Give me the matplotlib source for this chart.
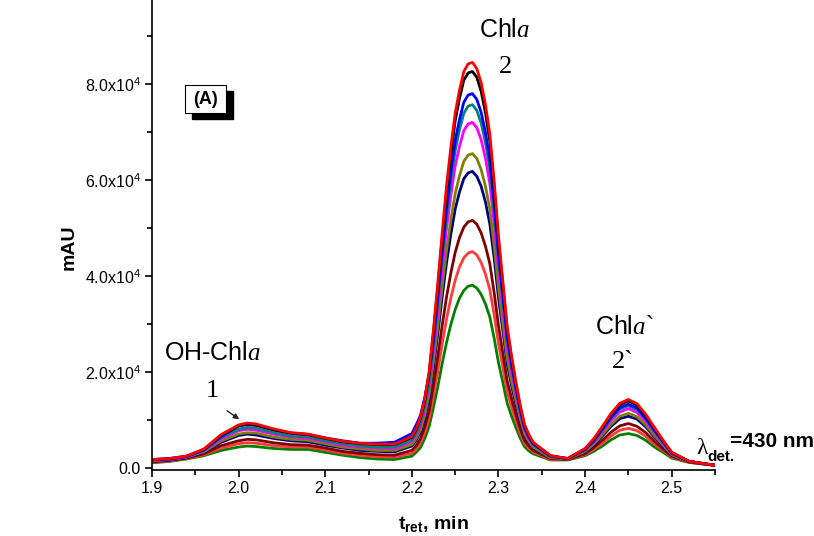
import numpy as np
import matplotlib
matplotlib.use("Agg")
import matplotlib.pyplot as plt
from matplotlib.patches import Rectangle
from matplotlib.ticker import MultipleLocator, FuncFormatter

plt.rcParams['font.family'] = ['Liberation Sans', 'DejaVu Sans']
plt.rcParams['mathtext.fontset'] = 'custom'
plt.rcParams['mathtext.rm'] = 'Liberation Sans'
plt.rcParams['mathtext.it'] = 'Liberation Serif:italic'
plt.rcParams['mathtext.bf'] = 'Liberation Sans:bold'

# retention time, min
t_ret = [1.90, 1.92, 1.94, 1.96, 1.98, 2.00, 2.01, 2.02, 2.04, 2.06, 2.08,
         2.10, 2.12, 2.14, 2.16, 2.18, 2.20,
         2.205, 2.21, 2.215, 2.22, 2.225, 2.23, 2.235, 2.24, 2.245, 2.25,
         2.255, 2.26, 2.265, 2.27, 2.275, 2.28, 2.285, 2.29, 2.295, 2.30,
         2.305, 2.31, 2.315, 2.32, 2.325, 2.33, 2.335, 2.34, 2.36, 2.38,
         2.40, 2.41, 2.42, 2.43, 2.44, 2.45, 2.46, 2.47, 2.48, 2.49, 2.50,
         2.52, 2.55]

# signal, x1000 mAU
green = [1.1, 1.4, 1.9, 2.6, 3.7, 4.4, 4.6, 4.5, 4.1, 3.9, 3.9,
         3.3, 2.7, 2.2, 1.9, 1.8, 2.5,
         3.3, 4.3, 6.2, 8.7, 12.7, 17.0, 21.8, 26.1, 29.9, 33.0,
         35.4, 37.0, 37.9, 38.1, 37.5, 36.2, 34.2, 31.5, 27.1, 22.0,
         17.9, 13.6, 10.9, 8.5, 6.3, 4.5, 3.6, 3.0, 1.7, 1.7,
         2.6, 3.5, 4.6, 5.9, 6.9, 7.2, 6.8, 5.8, 4.4, 3.3, 2.1, 1.2, 0.6]
ltred = [1.2, 1.5, 2.0, 2.8, 4.2, 5.1, 5.3, 5.2, 4.7, 4.4, 4.4,
         3.8, 3.1, 2.7, 2.4, 2.3, 3.1,
         4.0, 5.3, 7.4, 10.4, 15.1, 20.2, 25.9, 31.0, 35.4, 39.1,
         41.9, 43.8, 44.8, 45.1, 44.4, 42.8, 40.4, 37.2, 32.0, 26.0,
         21.1, 16.0, 12.8, 9.9, 7.3, 5.2, 4.1, 3.4, 1.8, 1.8,
         2.8, 3.9, 5.2, 6.7, 7.9, 8.3, 7.8, 6.6, 5.0, 3.7, 2.3, 1.2, 0.6]
maroon = [1.3, 1.6, 2.1, 3.0, 4.7, 5.7, 6.0, 5.9, 5.3, 4.9, 4.8,
          4.2, 3.5, 3.1, 2.8, 2.7, 3.7,
          4.7, 6.1, 8.6, 12.0, 17.4, 23.3, 29.7, 35.6, 40.6, 44.9,
          48.0, 50.2, 51.3, 51.6, 50.8, 49.0, 46.2, 42.6, 36.6, 29.7,
          24.0, 18.2, 14.6, 11.3, 8.3, 5.8, 4.6, 3.7, 2.0, 1.8,
          3.0, 4.3, 5.8, 7.5, 8.8, 9.3, 8.7, 7.4, 5.6, 4.0, 2.5, 1.3, 0.6]
navy = [1.5, 1.7, 2.2, 3.3, 5.4, 6.8, 7.1, 6.9, 6.2, 5.7, 5.5,
        4.8, 4.2, 3.7, 3.5, 3.4, 4.6,
        5.8, 7.5, 10.4, 14.6, 21.0, 28.0, 35.6, 42.7, 48.7, 53.9,
        57.5, 60.3, 61.5, 61.8, 60.8, 58.7, 55.4, 50.9, 43.8, 35.5,
        28.7, 21.8, 17.3, 13.4, 9.8, 6.9, 5.3, 4.2, 2.2, 1.9,
        3.4, 4.8, 6.7, 8.7, 10.3, 10.8, 10.2, 8.6, 6.5, 4.6, 2.7, 1.3, 0.6]
olive = [1.5, 1.8, 2.3, 3.4, 5.7, 7.1, 7.4, 7.3, 6.5, 6.0, 5.8,
         5.1, 4.4, 4.0, 3.7, 3.7, 4.9,
         6.2, 8.0, 11.1, 15.5, 22.3, 29.7, 37.8, 45.3, 51.7, 57.1,
         60.9, 63.9, 65.2, 65.5, 64.5, 62.2, 58.7, 54.0, 46.4, 37.6,
         30.3, 23.0, 18.3, 14.2, 10.4, 7.2, 5.6, 4.4, 2.2, 1.9,
         3.5, 5.0, 7.0, 9.1, 10.8, 11.4, 10.7, 9.0, 6.8, 4.8, 2.8, 1.3, 0.6]
magenta = [1.6, 1.8, 2.3, 3.6, 6.1, 7.8, 8.1, 7.9, 7.1, 6.5, 6.2,
           5.5, 4.8, 4.4, 4.2, 4.1, 5.5,
           6.9, 8.9, 12.3, 17.1, 24.5, 32.8, 41.6, 49.9, 56.8, 62.9,
           67.0, 70.3, 71.7, 72.0, 70.9, 68.4, 64.5, 59.3, 51.0, 41.3,
           33.3, 25.3, 20.1, 15.5, 11.3, 7.9, 6.1, 4.8, 2.4, 1.9,
           3.7, 5.4, 7.6, 9.9, 11.7, 12.4, 11.6, 9.7, 7.4, 5.1, 3.0, 1.4, 0.6]
teal = [1.7, 1.9, 2.4, 3.7, 6.4, 8.1, 8.5, 8.3, 7.4, 6.7, 6.5,
        5.7, 5.1, 4.6, 4.4, 4.4, 5.8,
        7.3, 9.4, 12.9, 18.0, 25.8, 34.5, 43.8, 52.5, 59.8, 66.1,
        70.5, 73.9, 75.4, 75.7, 74.5, 71.9, 67.8, 62.4, 53.6, 43.4,
        35.0, 26.6, 21.1, 16.3, 11.9, 8.2, 6.4, 4.9, 2.4, 1.9,
        3.8, 5.6, 7.9, 10.4, 12.3, 13.0, 12.2, 10.2, 7.7, 5.3, 3.1, 1.4, 0.6]
blue = [1.7, 1.9, 2.4, 3.8, 6.6, 8.8, 9.1, 8.9, 8.0, 7.3, 7.0,
        6.3, 5.7, 5.2, 5.2, 5.4, 7.2,
        9.0, 11.0, 14.8, 19.5, 26.6, 35.6, 45.1, 54.1, 61.6, 68.2,
        72.6, 76.2, 77.7, 78.0, 76.8, 74.1, 69.9, 64.3, 55.2, 44.7,
        36.0, 27.4, 21.7, 16.8, 12.2, 8.5, 6.5, 5.1, 2.5, 2.0,
        3.9, 5.7, 8.1, 10.6, 12.6, 13.3, 12.5, 10.4, 7.9, 5.5, 3.1, 1.4, 0.6]
black = [1.8, 2.0, 2.5, 3.9, 6.9, 8.8, 9.2, 9.0, 8.0, 7.3, 7.0,
         6.2, 5.5, 5.1, 4.9, 4.9, 6.4,
         8.0, 10.4, 14.2, 19.7, 28.3, 37.7, 47.8, 57.4, 65.3, 72.3,
         77.0, 80.8, 82.3, 82.6, 81.4, 78.5, 74.0, 68.1, 58.5, 47.3,
         38.2, 29.0, 23.0, 17.7, 12.9, 8.9, 6.9, 5.3, 2.6, 2.0,
         4.0, 6.0, 8.5, 11.2, 13.2, 14.0, 13.1, 11.0, 8.3, 5.7, 3.3, 1.4, 0.6]
red = [1.8, 2.0, 2.5, 4.0, 7.0, 9.0, 9.4, 9.2, 8.2, 7.4, 7.1,
       6.3, 5.6, 5.2, 5.0, 5.0, 6.6,
       8.2, 10.6, 14.5, 20.2, 28.9, 38.6, 48.9, 58.7, 66.8, 73.9,
       78.7, 82.6, 84.2, 84.5, 83.2, 80.3, 75.7, 69.6, 59.8, 48.4,
       39.0, 29.6, 23.5, 18.1, 13.2, 9.1, 7.0, 5.4, 2.6, 2.0,
       4.1, 6.1, 8.7, 11.4, 13.5, 14.3, 13.4, 11.2, 8.5, 5.8, 3.3, 1.4, 0.6]

series = [green, ltred, maroon, navy, olive, magenta, teal, blue, black, red]
colors = ['#008000', '#ff3b3b', '#800000', '#000080', '#808000',
          '#ff00ff', '#008080', '#0000ff', '#000000', '#ff0000']

fig = plt.figure(figsize=(8.14, 5.36), dpi=100)
ax = fig.add_axes([0.1867, 0.123, 0.6917, 0.877])

t = np.array(t_ret)
for vals, c in zip(series, colors):
    ax.plot(t, np.array(vals) * 1000, color=c, lw=2,
            solid_joinstyle='round', solid_capstyle='round')

ax.set_xlim(1.9, 2.55)
ax.set_ylim(-400, 97500)
ax.spines['top'].set_visible(False)
ax.spines['right'].set_visible(False)
for s in ['left', 'bottom']:
    ax.spines[s].set_linewidth(1.2)

ax.xaxis.set_major_locator(MultipleLocator(0.1))
ax.xaxis.set_minor_locator(MultipleLocator(0.05))
ax.yaxis.set_major_locator(MultipleLocator(20000))
ax.yaxis.set_minor_locator(MultipleLocator(10000))
ax.xaxis.set_major_formatter(FuncFormatter(lambda v, p: '%.1f' % v))
ax.yaxis.set_major_formatter(FuncFormatter(
    lambda v, p: '0.0' if abs(v) < 1 else r'$\mathregular{%.1fx10^{4}}$' % (v / 1e4)))
ax.tick_params(which='major', direction='out', length=5, width=1.2,
               labelsize=11.5, pad=3)
ax.tick_params(which='minor', direction='out', length=3.5, width=1.2)

ax.set_xlabel(r'$\mathbf{t_{ret}}$, min', fontsize=14, fontweight='bold', labelpad=13)
fig.text(69 / 814, 1 - 247 / 536, 'mAU', rotation=90, fontsize=14,
         fontweight='bold', ha='center', va='center')

# peak labels
ax.text(2.307, 89800, r'Chl$\mathit{a}$', fontsize=18, ha='center', va='baseline')
ax.text(2.308, 82300, '2', fontsize=19, family='Liberation Serif',
        ha='center', va='baseline')
ax.text(1.970, 22500, r'OH-Chl$\mathit{a}$', fontsize=18, ha='center', va='baseline')
ax.text(1.970, 14800, '1', fontsize=19, family='Liberation Serif',
        ha='center', va='baseline')
ax.text(2.412, 27900, r'Chl$\mathit{a}$`', fontsize=18, ha='left', va='baseline')
ax.text(2.4315, 20800, '2`', fontsize=19, family='Liberation Serif',
        ha='left', va='baseline')
ax.annotate('', xy=(2.0034, 9850), xytext=(1.984, 12300),
            arrowprops=dict(arrowstyle='-|>', color='#222222', lw=1,
                            mutation_scale=8))

# detection wavelength
fig.text(696 / 814, 1 - 454 / 536, 'λ', fontsize=17, family='Liberation Serif',
         va='baseline')
fig.text(707 / 814, 1 - 461 / 536, 'det.', fontsize=11, fontweight='bold',
         va='baseline')
fig.text(730 / 814, 1 - 447 / 536, '=430 nm', fontsize=15, fontweight='bold',
         va='baseline')

# (A) box with shadow
fig.patches.append(Rectangle((191.7 / 814, 1 - 119.3 / 536), 41 / 814, 28 / 536,
                             transform=fig.transFigure, facecolor='black',
                             edgecolor='black', zorder=5))
fig.patches.append(Rectangle((185 / 814, 1 - 113 / 536), 41 / 814, 28 / 536,
                             transform=fig.transFigure, facecolor='white',
                             edgecolor='black', lw=0.8, zorder=6))
fig.text(205.5 / 814, 1 - 99 / 536, '(A)', fontsize=13, fontweight='bold',
         ha='center', va='center', zorder=7)

fig.savefig('out.png', dpi=100)
